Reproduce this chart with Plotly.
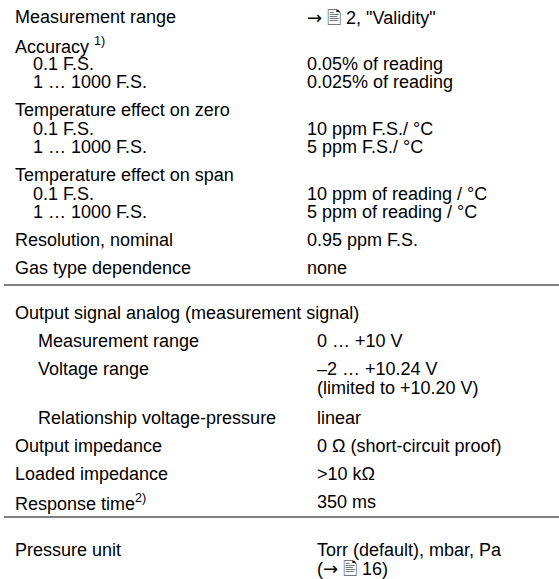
import plotly.graph_objects as go

# ---- data (text only) ----
ARROW = "<span style=\"font-family:'DejaVu Sans'\">→</span>"
DOC = "\U0001F5B9"
block1_labels = ["Measurement range", "Accuracy <sup>1)</sup>", "0.1 F.S.", "1 … 1000 F.S.",
                 "Temperature effect on zero", "0.1 F.S.", "1 … 1000 F.S.",
                 "Temperature effect on span", "0.1 F.S.", "1 … 1000 F.S.",
                 "Resolution, nominal", "Gas type dependence"]
block1_levels = [0, 0, 1, 1, 0, 1, 1, 0, 1, 1, 0, 0]
block1_values = [ARROW + " " + DOC + " 2, \"Validity\"", "", "0.05% of reading", "0.025% of reading",
                 "", "10 ppm F.S./ °C", "5 ppm F.S./ °C",
                 "", "10 ppm of reading / °C", "5 ppm of reading / °C",
                 "0.95 ppm F.S.", "none"]

block2_labels = ["Output signal analog (measurement signal)", "Measurement range", "Voltage range",
                 "Relationship voltage-pressure", "Output impedance", "Loaded impedance",
                 "Response time<sup>2)</sup>"]
block2_levels = [0, 2, 2, 2, 0, 0, 0]
block2_values = ["", "0 … +10 V", "–2 … +10.24 V|(limited to +10.20 V)", "linear",
                 "0 Ω (short-circuit proof)", ">10 kΩ", "350 ms"]

block3_labels = ["Pressure unit"]
block3_levels = [0]
block3_values = ["Torr (default), mbar, Pa|(" + ARROW + " " + DOC + " 16)"]

# ---- layout constants ----
W, H = 559, 579
FONT = dict(family="Liberation Sans, Arial, sans-serif", size=18, color="#000000")
PAD = 2
INDENT = {0: 15 - PAD, 1: 33 - PAD, 2: 38 - PAD}
VAL_X = [307 - PAD, 317 - PAD, 317 - PAD]
HEAD_STEP = 28
SUB_STEP = 18.5
WRAP_STEP = 19
WRAP_EXTRA = 21

fig = go.Figure()
annotations = []
shapes = []

def add_text(x, y, text):
    annotations.append(dict(x=x, y=y, xref="x", yref="y", text=text, showarrow=False,
                            xanchor="left", yanchor="middle", font=FONT))

def draw_block(labels, levels, values, y0, val_x, wrap_step=WRAP_STEP):
    y = y0
    prev_extra = 0
    for i, (lab, lev, val) in enumerate(zip(labels, levels, values)):
        if i > 0:
            step = SUB_STEP if lev == 1 else HEAD_STEP
            y += step + prev_extra
        add_text(INDENT[lev], y, lab)
        prev_extra = 0
        if val:
            parts = val.split("|")
            for k, p in enumerate(parts):
                add_text(val_x, y + k * wrap_step, p)
            prev_extra = (len(parts) - 1) * WRAP_EXTRA
    return y

last1 = draw_block(block1_labels, block1_levels, block1_values, 17, VAL_X[0])
rule1 = last1 + 17
last2 = draw_block(block2_labels, block2_levels, block2_values, rule1 + 28, VAL_X[1])
rule2 = last2 + 15
draw_block(block3_labels, block3_levels, block3_values, rule2 + 33, VAL_X[2], wrap_step=18)

for ry in (rule1, rule2):
    shapes.append(dict(type="line", xref="x", yref="y", x0=4, x1=W, y0=ry, y1=ry,
                       line=dict(color="#808080", width=2)))

fig.update_layout(
    width=W, height=H, margin=dict(l=0, r=0, t=0, b=0),
    paper_bgcolor="white", plot_bgcolor="white",
    xaxis=dict(range=[0, W], visible=False, fixedrange=True),
    yaxis=dict(range=[H, 0], visible=False, fixedrange=True),
    annotations=annotations, shapes=shapes, showlegend=False,
)
fig.write_html("out.html", config={"displayModeBar": False},
               post_script="document.body.style.margin='0';document.body.style.overflow='hidden';")
